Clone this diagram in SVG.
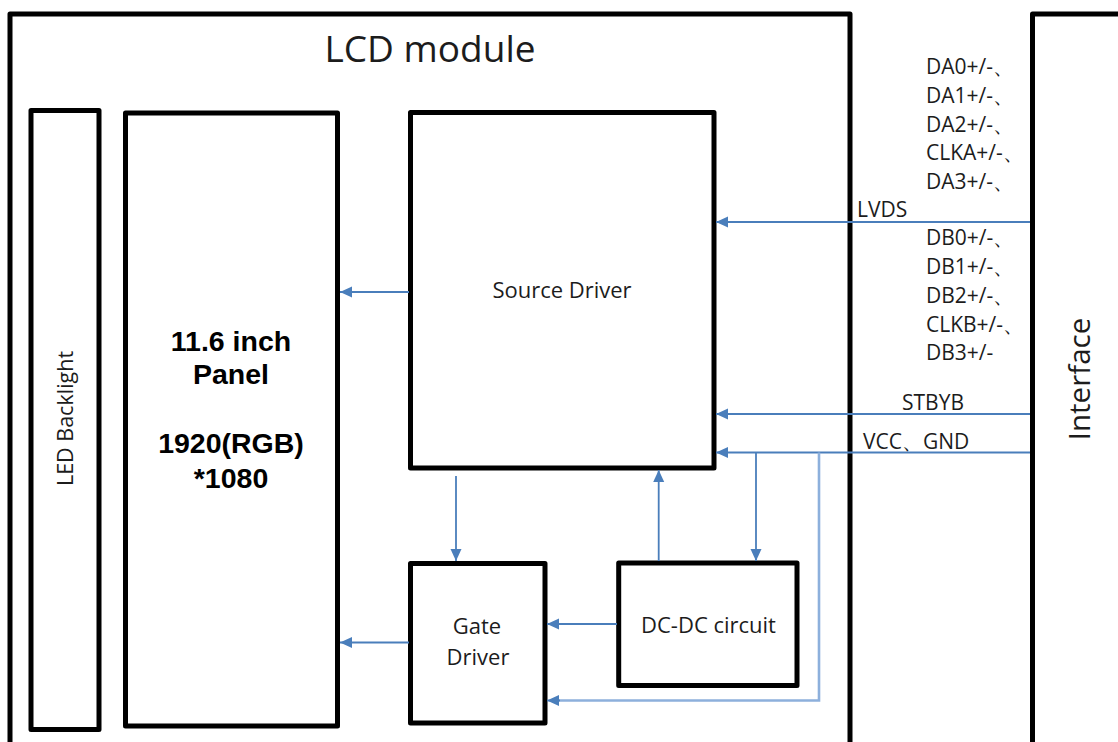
<svg xmlns="http://www.w3.org/2000/svg" width="1118" height="742" viewBox="0 0 1118 742">
<style>
.box{fill:#fff;stroke:#000;stroke-width:5;stroke-linejoin:round}
.t{font-family:"Open Sans","Liberation Sans",sans-serif;fill:#1c1c1c}
.b{font-family:"Liberation Sans",Arial,sans-serif;font-weight:bold;fill:#000;font-size:28.5px;text-anchor:middle}
.c{fill:none;stroke:#4a7ebb;stroke-width:1.8}
.cl{fill:none;stroke:#8db0dc;stroke-width:2.6}
.lab{font-size:21px}
</style>
<defs>
<marker id="ah" markerUnits="userSpaceOnUse" markerWidth="13" markerHeight="12" refX="12" refY="5.5" orient="auto">
<path d="M0,0 L12,5.5 L0,11 z" fill="#4a7ebb"/>
</marker>
</defs>
<rect width="1118" height="742" fill="#fff"/>
<g id="lcd-module">
<path class="box" d="M10,760 V14 H850 V760"/>
<text class="t" x="430" y="62" font-size="37" text-anchor="middle">LCD module</text>
</g>
<g id="interface">
<path class="box" d="M1032.5,760 V14 H1130"/>
<text class="t" transform="translate(1090,379) rotate(-90)" font-size="29.5" text-anchor="middle">Interface</text>
</g>
<g id="led-backlight">
<rect class="box" x="31" y="110.5" width="68" height="619"/>
<text class="t" transform="translate(73,418.5) rotate(-90)" font-size="21.5" text-anchor="middle">LED Backlight</text>
</g>
<g id="panel">
<rect class="box" x="125.5" y="113" width="212" height="613"/>
<text class="b" x="231" y="351">11.6 inch</text>
<text class="b" x="231" y="384">Panel</text>
<text class="b" x="231" y="453">1920(RGB)</text>
<text class="b" x="231" y="488">*1080</text>
</g>
<g id="source-driver">
<rect class="box" x="410.5" y="112.5" width="303.5" height="355.5"/>
<text class="t" x="562" y="298" font-size="22" text-anchor="middle">Source Driver</text>
</g>
<g id="gate-driver">
<rect class="box" x="410.5" y="563.5" width="134.5" height="159.5"/>
<text class="t" x="477" y="634" font-size="22" text-anchor="middle">Gate</text>
<text class="t" x="478" y="665" font-size="22" text-anchor="middle">Driver</text>
</g>
<g id="dc-dc">
<rect class="box" x="618.7" y="563" width="178.3" height="122.5"/>
<text class="t" x="708.5" y="633" font-size="22" text-anchor="middle">DC-DC circuit</text>
</g>
<g id="signal-labels" class="t lab">
<text x="926" y="74">DA0+/-、</text>
<text x="926" y="103">DA1+/-、</text>
<text x="926" y="132">DA2+/-、</text>
<text x="926" y="160">CLKA+/-、</text>
<text x="926" y="189">DA3+/-、</text>
<text x="857" y="217">LVDS</text>
<text x="926" y="245">DB0+/-、</text>
<text x="926" y="274">DB1+/-、</text>
<text x="926" y="303">DB2+/-、</text>
<text x="926" y="332">CLKB+/-、</text>
<text x="926" y="360">DB3+/-</text>
<text x="902" y="410">STBYB</text>
<text x="863" y="449">VCC、GND</text>
</g>
<g id="connectors">
<line class="c" x1="1030" y1="222" x2="716" y2="222" marker-end="url(#ah)"/>
<line class="c" x1="1030" y1="414" x2="716" y2="414" marker-end="url(#ah)"/>
<line class="c" x1="1030" y1="452.5" x2="716" y2="452.5" marker-end="url(#ah)"/>
<line class="c" x1="756" y1="452.5" x2="756" y2="561" marker-end="url(#ah)"/>
<path class="cl" d="M819,452.5 V700.5 H556"/>
<line class="c" x1="560" y1="700.5" x2="547" y2="700.5" marker-end="url(#ah)"/>
<line class="c" x1="409" y1="292" x2="340" y2="292" marker-end="url(#ah)"/>
<line class="c" x1="409" y1="642.5" x2="340" y2="642.5" marker-end="url(#ah)"/>
<line class="c" x1="456" y1="476" x2="456" y2="561" marker-end="url(#ah)"/>
<line class="c" x1="658.7" y1="561" x2="658.7" y2="470" marker-end="url(#ah)"/>
<line class="c" x1="617" y1="624" x2="547" y2="624" marker-end="url(#ah)"/>
</g>
</svg>
